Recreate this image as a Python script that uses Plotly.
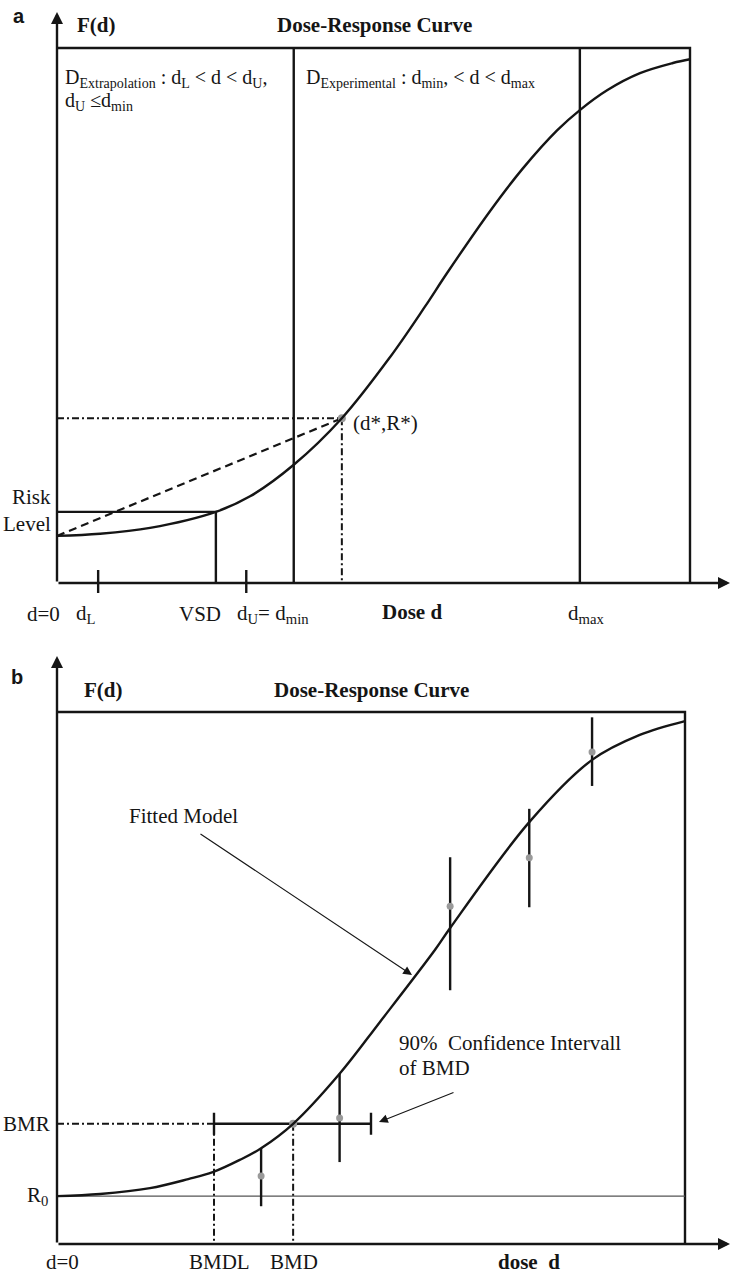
import plotly.graph_objects as go

W, H = 731, 1273

# ---------------- Panel a data (dose units, response F(d)) ----------------
a_curve_dose = [0.0, 0.68, 1.47, 2.51, 3.05, 3.74, 4.5, 5.26, 5.81, 6.16, 6.84, 7.36, 7.90, 8.26, 8.69, 9.21, 9.73, 10.0]
a_curve_resp = [0.088, 0.092, 0.103, 0.133, 0.162, 0.221, 0.308, 0.422, 0.516, 0.579, 0.695, 0.775, 0.846, 0.884, 0.921, 0.953, 0.972, 0.979]
a_d_L = 0.65
a_VSD = 2.51
a_d_U = 2.99
a_d_min = 3.74
a_d_max = 8.26
a_d_star = 4.5
a_R_star = 0.308
a_risk_level = 0.133
a_R0 = 0.088
a_dose_end = 10.0
a_resp_top = 1.0

# ---------------- Panel b data ----------------
b_curve_dose = [0.0, 0.685, 1.48, 2.09, 2.48, 2.91, 3.25, 3.76, 4.5, 5.14, 6.02, 6.26, 7.52, 8.52, 9.28, 10.0]
b_curve_resp = [0.090, 0.094, 0.105, 0.122, 0.135, 0.158, 0.180, 0.226, 0.320, 0.417, 0.553, 0.594, 0.793, 0.910, 0.957, 0.983]
b_obs_dose = [3.25, 4.5, 6.26, 7.52, 8.52]
b_obs_resp = [0.128, 0.237, 0.635, 0.726, 0.925]
b_obs_hi = [0.180, 0.320, 0.727, 0.818, 0.990]
b_obs_lo = [0.071, 0.154, 0.477, 0.633, 0.861]
b_R0 = 0.090
b_BMR = 0.226
b_BMDL = 2.5
b_BMD = 3.76
b_BMDU = 5.0
b_dose_end = 10.0
b_resp_top = 1.0

# ---------------- layout geometry (pixels) ----------------
SPLIT = 640
A = dict(x0=57, xs=63.3, y0=583, ys=535)
B = dict(x0=57, xs=62.8, y0=1244, ys=532)


def to_a(px, py):
    return (px - A["x0"]) / A["xs"], (A["y0"] - py) / A["ys"]


def to_b(px, py):
    return (px - B["x0"]) / B["xs"], (B["y0"] - py) / B["ys"]


INK = "#151515"
LW = 2.4
SERIF = "Liberation Serif"
DASHDOT = "7px,3px,2px,3px"

fig = go.Figure()


def line(xs, ys, ax, width=LW, dash="solid", color=INK, shape="linear"):
    fig.add_trace(go.Scatter(x=xs, y=ys, mode="lines", xaxis=ax[0], yaxis=ax[1],
                             line=dict(color=color, width=width, dash=dash, shape=shape),
                             hoverinfo="skip", showlegend=False))


AX_A = ("x", "y")
AX_B = ("x2", "y2")

# ---- panel a ----
line([0, a_dose_end, a_dose_end], [a_resp_top, a_resp_top, 0], AX_A)
line([a_d_min, a_d_min, None, a_d_max, a_d_max], [0, a_resp_top, None, 0, a_resp_top], AX_A)
line([0, a_VSD, a_VSD], [a_risk_level, a_risk_level, 0], AX_A)
t_lo = to_a(0, 593)[1]
t_hi = to_a(0, 570)[1]
line([a_d_L, a_d_L, None, a_d_U, a_d_U], [t_lo, t_hi, None, t_lo, t_hi], AX_A)
line([0, a_d_star, a_d_star], [a_R_star, a_R_star, 0], AX_A, width=2, dash=DASHDOT)
line([0, a_d_star], [a_R0, a_R_star], AX_A, width=2.2, dash="8px,5px")
fig.add_trace(go.Scatter(x=[a_d_star], y=[a_R_star], mode="markers", xaxis="x", yaxis="y",
                         marker=dict(color="#9a9a9a", size=8), hoverinfo="skip", showlegend=False))
line(a_curve_dose, a_curve_resp, AX_A, shape="spline")

# ---- panel b ----
line([0, b_dose_end, b_dose_end], [b_resp_top, b_resp_top, 0], AX_B)
line([0, b_dose_end], [b_R0, b_R0], AX_B, width=1.1, color="#555555")
line([0, b_BMDL, None, b_BMDL, b_BMDL, None, b_BMD, b_BMD],
     [b_BMR, b_BMR, None, b_BMR, 0, None, b_BMR, 0], AX_B, width=2, dash=DASHDOT)
fig.add_trace(go.Scatter(x=[b_BMD], y=[b_BMR], mode="markers", xaxis="x2", yaxis="y2",
                         marker=dict(color="#9a9a9a", size=8),
                         error_x=dict(type="data", symmetric=False,
                                      array=[b_BMDU - b_BMD], arrayminus=[b_BMD - b_BMDL],
                                      color=INK, thickness=LW, width=11),
                         hoverinfo="skip", showlegend=False))
fig.add_trace(go.Scatter(x=b_obs_dose, y=b_obs_resp, mode="markers", xaxis="x2", yaxis="y2",
                         marker=dict(color="#9a9a9a", size=7),
                         error_y=dict(type="data", symmetric=False,
                                      array=[h - r for h, r in zip(b_obs_hi, b_obs_resp)],
                                      arrayminus=[r - l for r, l in zip(b_obs_resp, b_obs_lo)],
                                      color=INK, thickness=LW, width=0),
                         hoverinfo="skip", showlegend=False))
line(b_curve_dose, b_curve_resp, AX_B, shape="spline")

ann = []


def arrow(tip, tail, xr, yr, width=LW, size=1.0, head=2):
    ann.append(dict(x=tip[0], y=tip[1], ax=tail[0], ay=tail[1], xref=xr, yref=yr,
                    axref=xr, ayref=yr, showarrow=True, arrowhead=head, arrowsize=size,
                    arrowwidth=width, arrowcolor=INK, text="", standoff=0, startstandoff=0))


# axes arrows
arrow(to_a(57, 12), to_a(57, 583), "x", "y")
arrow(to_a(730, 583), to_a(57, 583), "x", "y")
arrow(to_b(57, 656), to_b(57, 1244), "x2", "y2")
arrow(to_b(730, 1244), to_b(57, 1244), "x2", "y2")
# pointers
arrow(to_b(412, 975), to_b(199, 833), "x2", "y2", width=1.1, size=1.6)
arrow(to_b(379, 1122), to_b(455, 1092), "x2", "y2", width=1.1, size=1.6)


def text(s, px, py, size=21, anchor="left", family=SERIF, color=INK):
    ann.append(dict(text=s, x=px / W, y=1 - py / H, xref="paper", yref="paper",
                    xanchor=anchor, yanchor="middle", showarrow=False,
                    font=dict(family=family, size=size, color=color)))


# panel a labels
text("<b>a</b>", 11, 16, size=20, family="Liberation Sans")
text("<b>F(d)</b>", 75, 25)
text("<b>Dose-Response Curve</b>", 374, 25, anchor="center")
text("D<sub>Extrapolation</sub> : d<sub>L</sub> &lt; d &lt; d<sub>U</sub>,", 63, 78, size=20)
text("d<sub>U</sub> ≤d<sub>min</sub>", 63, 102, size=20)
text("D<sub>Experimental</sub> : d<sub>min</sub>, &lt; d &lt; d<sub>max</sub>", 304, 78, size=20)
text("(d*,R*)", 351, 423, size=21)
text("Risk", 53, 497, anchor="right")
text("Level", 53, 524, anchor="right")
text("d=0", 25, 614, size=21)
text("d<sub>L</sub>", 74, 614, size=21)
text("VSD", 177, 614, size=21)
text("d<sub>U</sub>= d<sub>min</sub>", 235, 614, size=21)
text("<b>Dose d</b>", 380, 612, size=21)
text("d<sub>max</sub>", 566, 614, size=21)

# panel b labels
text("<b>b</b>", 9, 677, size=20, family="Liberation Sans")
text("<b>F(d)</b>", 82, 690)
text("<b>Dose-Response Curve</b>", 371, 690, anchor="center")
text("Fitted Model", 127, 816)
text("90%  Confidence Intervall", 397, 1043)
text("of BMD", 397, 1068)
text("BMR", 52, 1124, anchor="right")
text("R<sub>0</sub>", 50, 1196, anchor="right")
text("d=0", 44, 1262)
text("BMDL", 219, 1262, anchor="center")
text("BMD", 294, 1262, anchor="center")
text("<b>dose  d</b>", 529, 1262, anchor="center")

dom_split = 1 - SPLIT / H
fig.update_layout(
    width=W, height=H, margin=dict(l=0, r=0, t=0, b=0),
    paper_bgcolor="white", plot_bgcolor="white", showlegend=False,
    xaxis=dict(domain=[0, 1], range=[-A["x0"] / A["xs"], (W - A["x0"]) / A["xs"]], visible=False, fixedrange=True),
    yaxis=dict(domain=[dom_split, 1], range=[(A["y0"] - SPLIT) / A["ys"], A["y0"] / A["ys"]], visible=False, fixedrange=True),
    xaxis2=dict(domain=[0, 1], range=[-B["x0"] / B["xs"], (W - B["x0"]) / B["xs"]], visible=False, fixedrange=True),
    yaxis2=dict(domain=[0, dom_split], range=[(B["y0"] - H) / B["ys"], (B["y0"] - SPLIT) / B["ys"]], visible=False, fixedrange=True),
    annotations=ann,
)

fig.write_html("out.html", config={"displayModeBar": False},
               post_script="document.body.style.margin='0';document.body.style.overflow='hidden';")
